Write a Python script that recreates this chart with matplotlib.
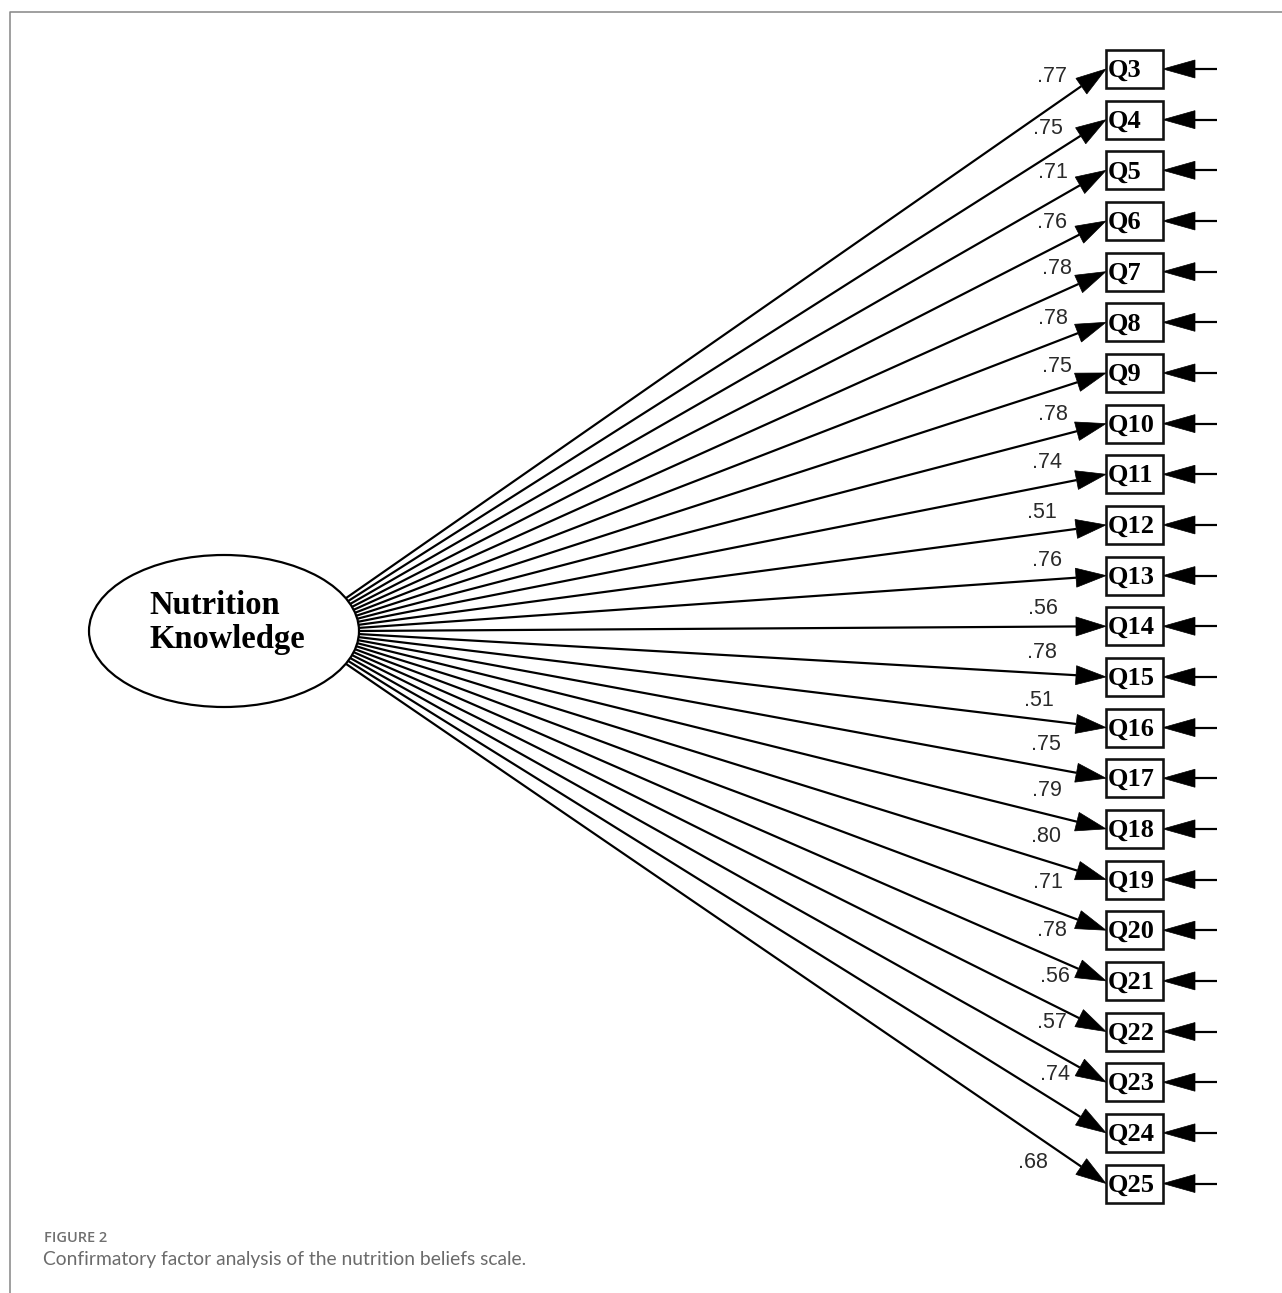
import matplotlib
matplotlib.use("Agg")
import matplotlib.pyplot as plt
from matplotlib.patches import Ellipse, Rectangle, Polygon
import numpy as np

# factor and observed items
factor = ["Nutrition", "Knowledge"]
items = ["Q3", "Q4", "Q5", "Q6", "Q7", "Q8", "Q9", "Q10", "Q11", "Q12", "Q13", "Q14",
         "Q15", "Q16", "Q17", "Q18", "Q19", "Q20", "Q21", "Q22", "Q23", "Q24", "Q25"]
loadings = [0.77, 0.75, 0.71, 0.76, 0.78, 0.78, 0.75, 0.78, 0.74, 0.51, 0.76, 0.56,
            0.78, 0.51, 0.75, 0.79, 0.80, 0.71, 0.78, 0.56, 0.57, 0.74, 0.68]

# where the loading numbers sit (pixels)
label_x = [1052, 1048, 1053, 1052, 1057, 1053, 1057, 1053, 1047, 1042, 1047, 1043,
           1042, 1039, 1046, 1047, 1046, 1048, 1052, 1055, 1052, 1055, 1033]
label_y = [77, 128, 172, 222, 269, 318, 366, 415, 463, 513, 560, 609,
           653, 700, 745, 790, 836, 883, 930, 977, 1023, 1075, 1163]

W, H = 1282, 1293
fig = plt.figure(figsize=(W / 100, H / 100), dpi=100)
ax = fig.add_axes([0, 0, 1, 1])
ax.set_xlim(0, W)
ax.set_ylim(H, 0)
ax.axis("off")

PX = 72 / 100  # points per pixel

# frame
ax.plot([10, 10, W + 5], [H + 5, 12, 12], color="#8a8a8a", lw=1.6 * PX, solid_capstyle="butt")

# latent variable
cx, cy, ea, eb = 224, 631, 135, 76
ax.add_patch(Ellipse((cx, cy), 2 * ea, 2 * eb, facecolor="white", edgecolor="black",
                     lw=2.2 * PX, zorder=5))
ax.text(149, 614, factor[0], family="Liberation Serif", weight="bold", fontsize=23.5,
        ha="left", va="baseline", zorder=6)
ax.text(149, 648, factor[1], family="Liberation Serif", weight="bold", fontsize=23.5,
        ha="left", va="baseline", zorder=6)


def arrow(x0, y0, x1, y1, hl, hw):
    d = np.array([x1 - x0, y1 - y0], dtype=float)
    u = d / np.hypot(*d)
    n = np.array([-u[1], u[0]])
    tip = np.array([x1, y1], dtype=float)
    base = tip - u * hl
    ax.plot([x0, base[0]], [y0, base[1]], color="black", lw=2.2 * PX, zorder=3,
            solid_capstyle="butt")
    ax.add_patch(Polygon([tip, base + n * hw / 2, base - n * hw / 2], closed=True,
                         facecolor="black", edgecolor="black", lw=0.5, zorder=4))


n = len(items)
bx0, bx1 = 1106, 1163
bh = 38
y_top, step = 69, 50.66
start_y = np.linspace(600, 662, n)

for i, (name, lam) in enumerate(zip(items, loadings)):
    yc = y_top + i * step
    # observed variable box
    ax.add_patch(Rectangle((bx0, yc - bh / 2), bx1 - bx0, bh, facecolor="white",
                           edgecolor="#111111", lw=2.6 * PX, zorder=5))
    ax.text(bx0 + 2, yc + 8, name, family="Liberation Serif", weight="bold",
            fontsize=19, ha="left", va="baseline", zorder=6)
    # loading path from the factor
    sy = start_y[i]
    sx = cx + ea * np.sqrt(max(0.0, 1 - ((sy - cy) / eb) ** 2)) - 4
    arrow(sx, sy, bx0, yc, 30, 19)
    ax.text(label_x[i], label_y[i], "{:.2f}".format(lam).lstrip("0"),
            family="Liberation Sans", fontsize=15.5, color="#2a2a2a",
            ha="center", va="center", zorder=6)
    # error term arrow
    arrow(1217, yc, bx1, yc, 32, 18)

# caption
ax.text(44, 1242, "FIGURE 2", family="Open Sans", weight="semibold", fontsize=10.5,
        color="#707070", ha="left", va="baseline")
ax.text(43, 1265, "Confirmatory factor analysis of the nutrition beliefs scale.",
        family="Lato", fontsize=13.9, color="#6b6b6b", ha="left", va="baseline")

fig.savefig("out.png", dpi=100, facecolor="white")
